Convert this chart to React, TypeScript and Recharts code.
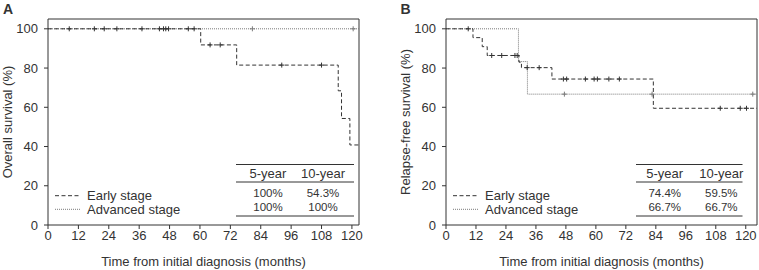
import React from 'react';
import { LineChart, Line, XAxis, YAxis, ReferenceLine } from 'recharts';

const monthTicks = [0, 12, 24, 36, 48, 60, 72, 84, 96, 108, 120];
const pctTicks = [0, 20, 40, 60, 80, 100];
const rateHeaders = ['5-year', '10-year'];
const groupNames = ['Early stage', 'Advanced stage'];

// Panel A: overall survival
const osEarlyTimes = [0, 60.3, 74.5, 114.6, 115.9, 119.2];
const osEarlySurv = [100, 91.8, 81.5, 68.4, 54.3, 40.8];
const osEarlyCensored = [8.4, 18.3, 22.2, 27.2, 37.1, 44.0, 45.6, 46.5, 47.6, 55.4, 57.7, 64.0, 68.0, 92.3, 108.0];
const osAdvTimes = [0];
const osAdvSurv = [100];
const osAdvCensored = [80.7, 120.5];
const osEnd = 122.8;
const osEarlyRates = ['100%', '54.3%'];
const osAdvRates = ['100%', '100%'];

// Panel B: relapse-free survival
const rfsEarlyTimes = [0, 10.8, 14.5, 16.5, 29.2, 30.2, 42.4, 83.0];
const rfsEarlySurv = [100, 95.5, 90.9, 86.4, 83.0, 80.2, 74.4, 59.5];
const rfsEarlyCensored = [8.9, 18.3, 22.3, 27.6, 28.5, 32.5, 37.3, 47.0, 48.3, 55.8, 59.3, 60.6, 65.2, 69.4, 109.8, 117.8, 120.3];
const rfsAdvTimes = [0, 29.0, 32.6];
const rfsAdvSurv = [100, 83.3, 66.7];
const rfsAdvCensored = [47.4, 82.5, 122.8];
const rfsEnd = 124.5;
const rfsEarlyRates = ['74.4%', '59.5%'];
const rfsAdvRates = ['66.7%', '66.7%'];

type KmPoint = { t: number; s: number; c: boolean };

// step curve points plus censor ticks (value taken from the step at that time)
function buildKm(times: number[], surv: number[], censored: number[], end: number): KmPoint[] {
  const valueAt = (t: number) => {
    let v = surv[0];
    times.forEach((tt, i) => { if (tt <= t) v = surv[i]; });
    return v;
  };
  const pts: KmPoint[] = [
    ...times.map((t, i) => ({ t, s: surv[i], c: false })),
    ...censored.map(t => ({ t, s: valueAt(t), c: true })),
    { t: end, s: valueAt(end), c: false },
  ];
  return pts.sort((a, b) => a.t - b.t);
}

const FONT = '"Liberation Sans", Arial, Helvetica, sans-serif';
const INK = '#333';
const EARLY = '#333';
const ADV = '#7a7a7a';

const censorDot = (color: string) => (props: any) => {
  const { cx, cy, payload, index } = props;
  if (!payload?.c || cx == null || cy == null) return <g key={index} />;
  return (
    <path
      key={index}
      d={`M${cx - 2.5},${cy}h5M${cx},${cy - 2.5}v5`}
      stroke={color}
      strokeWidth={1}
      strokeDasharray="none"
      fill="none"
    />
  );
};

interface PanelProps {
  letter: string;
  letterX: number;
  yLabel: string;
  early: KmPoint[];
  adv: KmPoint[];
  xMax: number;
  width: number;
  yAxisWidth: number;
  marginRight: number;
  yLabelOffset: number;
  legendX: number;
  table: { x0: number; x1: number; cols: number[] };
  earlyRates: string[];
  advRates: string[];
}

function KmPanel(p: PanelProps) {
  const textProps = { fontFamily: FONT, fontSize: 13, fill: INK };
  const rowProps = { fontFamily: FONT, fontSize: 11.5, fill: INK };
  return (
    <div style={{ position: 'relative', width: p.width, height: 270 }}>
      <LineChart
        width={p.width}
        height={270}
        margin={{ top: 19, right: p.marginRight, bottom: 0, left: 0 }}
        style={{ fontFamily: FONT }}
      >
        <XAxis
          type="number"
          dataKey="t"
          domain={[0, p.xMax]}
          ticks={monthTicks}
          interval={0}
          allowDataOverflow
          height={45}
          tickSize={4}
          tickMargin={2}
          stroke={INK}
          tick={{ fill: INK, fontSize: 13 }}
          label={{ value: 'Time from initial diagnosis (months)', position: 'insideBottom', offset: 4, fill: INK, fontSize: 13 }}
        />
        <YAxis
          type="number"
          domain={[0, 105]}
          ticks={pctTicks}
          interval={0}
          allowDataOverflow
          width={p.yAxisWidth}
          tickSize={4}
          tickMargin={6}
          stroke={INK}
          tick={{ fill: INK, fontSize: 13 }}
          label={{
            value: p.yLabel,
            angle: -90,
            position: 'insideLeft',
            offset: p.yLabelOffset,
            fill: INK,
            fontSize: 13,
            style: { textAnchor: 'middle' },
          }}
        />
        <ReferenceLine y={105} stroke={INK} strokeWidth={1} />
        <ReferenceLine x={p.xMax} stroke={INK} strokeWidth={1} />
        <Line
          data={p.adv}
          dataKey="s"
          type="stepAfter"
          stroke={ADV}
          strokeWidth={1}
          strokeDasharray="1 1"
          dot={censorDot(ADV)}
          activeDot={false}
          isAnimationActive={false}
        />
        <Line
          data={p.early}
          dataKey="s"
          type="stepAfter"
          stroke={EARLY}
          strokeWidth={1}
          strokeDasharray="4 2.5"
          dot={censorDot(EARLY)}
          activeDot={false}
          isAnimationActive={false}
        />
      </LineChart>

      {/* panel letter, legend and survival-rate table */}
      <svg
        width={p.width}
        height={270}
        style={{ position: 'absolute', left: 0, top: 0, pointerEvents: 'none' }}
      >
        <text x={p.letterX} y={13.5} fontFamily={FONT} fontSize={14} fontWeight="bold" fill={INK}>{p.letter}</text>

        <line x1={p.legendX} x2={p.legendX + 25} y1={195.7} y2={195.7} stroke={EARLY} strokeDasharray="4 2.5" />
        <text x={p.legendX + 32} y={200} {...textProps}>{groupNames[0]}</text>
        <line x1={p.legendX} x2={p.legendX + 25} y1={209.3} y2={209.3} stroke={ADV} strokeDasharray="1 1" />
        <text x={p.legendX + 32} y={213.5} {...textProps}>{groupNames[1]}</text>

        <line x1={p.table.x0} x2={p.table.x1} y1={164.5} y2={164.5} stroke={INK} />
        <line x1={p.table.x0} x2={p.table.x1} y1={182} y2={182} stroke={INK} />
        <line x1={p.table.x0} x2={p.table.x1} y1={216} y2={216} stroke={INK} />
        {rateHeaders.map((h, i) => (
          <text key={h} x={p.table.cols[i]} y={177.5} textAnchor="middle" {...textProps}>{h}</text>
        ))}
        {p.earlyRates.map((r, i) => (
          <text key={'e' + i} x={p.table.cols[i]} y={196.5} textAnchor="middle" {...rowProps}>{r}</text>
        ))}
        {p.advRates.map((r, i) => (
          <text key={'a' + i} x={p.table.cols[i]} y={210.5} textAnchor="middle" {...rowProps}>{r}</text>
        ))}
      </svg>
    </div>
  );
}

export default function App() {
  const osEarly = buildKm(osEarlyTimes, osEarlySurv, osEarlyCensored, osEnd);
  const osAdv = buildKm(osAdvTimes, osAdvSurv, osAdvCensored, osEnd);
  const rfsEarly = buildKm(rfsEarlyTimes, rfsEarlySurv, rfsEarlyCensored, rfsEnd);
  const rfsAdv = buildKm(rfsAdvTimes, rfsAdvSurv, rfsAdvCensored, rfsEnd);

  return (
    <div style={{ position: 'absolute', left: 0, top: 0, width: 759, height: 270, display: 'flex', background: '#fff' }}>
      <KmPanel
        letter="A"
        letterX={3}
        yLabel="Overall survival (%)"
        early={osEarly}
        adv={osAdv}
        xMax={osEnd}
        width={379}
        yAxisWidth={48}
        marginRight={20}
        yLabelOffset={7}
        legendX={55}
        table={{ x0: 236, x1: 354, cols: [268, 323] }}
        earlyRates={osEarlyRates}
        advRates={osAdvRates}
      />
      <KmPanel
        letter="B"
        letterX={21.5}
        yLabel="Relapse-free survival (%)"
        early={rfsEarly}
        adv={rfsAdv}
        xMax={rfsEnd}
        width={380}
        yAxisWidth={67}
        marginRight={2}
        yLabelOffset={26}
        legendX={74}
        table={{ x0: 257, x1: 363.5, cols: [285.7, 342.3] }}
        earlyRates={rfsEarlyRates}
        advRates={rfsAdvRates}
      />
    </div>
  );
}
